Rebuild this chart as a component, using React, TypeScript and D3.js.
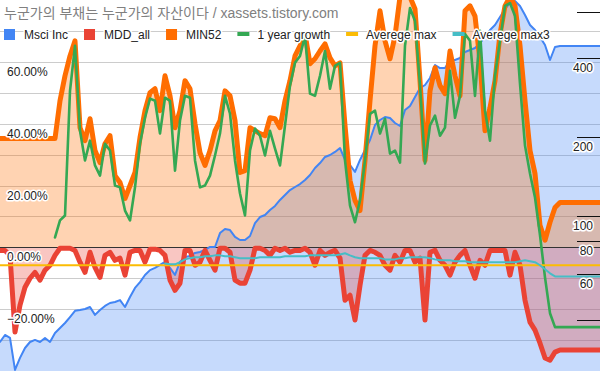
import React, { useEffect, useRef } from "react"
import * as d3 from "d3"

const title = "누군가의 부채는 누군가의 자산이다 / xassets.tistory.com"

// one sample every ~5px of the original plot, oldest first
// Msci Inc price (right, log axis)
const msciInc = [
  33.1, 35.2, 34.3, 25.9, 28.8, 31.4, 33.1, 33.7, 33.1, 34.3,
  33.1, 35.8, 37.4, 39.1, 41.2, 43.5, 43.8, 44.2, 45.0, 42.0,
  43.8, 45.4, 46.6, 47.0, 47.8, 45.0, 49.1, 53.2, 56.0, 59.6,
  62.2, 63.4, 65.1, 66.8, 63.4, 59.6, 66.8, 69.8, 70.4, 72.3,
  72.9, 74.2, 76.2, 76.2, 86.1, 89.2, 88.4, 83.2, 81.0, 81.0,
  83.9, 94.0, 99.1, 100.9, 105.4, 109.2, 115.1, 120.2, 125.6, 129.0,
  132.4, 137.2, 143.3, 152.4, 159.2, 167.9, 170.8, 175.4, 181.6, 163.5,
  156.4, 147.2, 163.5, 178.5, 194.9, 222.3, 232.2, 238.4, 236.3, 226.2,
  220.3, 253.5, 262.6, 284.1, 307.4, 315.7, 335.8, 376.3, 366.4, 366.4,
  393.1, 393.1, 400.1, 421.7, 429.2, 436.8, 456.4, 481.2, 511.5, 534.4,
  573.5, 615.0, 648.2, 659.7, 631.4, 583.5, 534.4, 511.5, 481.2, 448.5,
  393.1, 440.7, 444.6, 444.6, 444.6, 444.6, 444.6, 444.6, 444.6, 444.6, 444.6,
]

// drawdown from all time high, %
const mddAll = [
  -1.0, -1.0, -2.6, -27.4, -18.7, -12.9, -10.0, -8.1, -10.6, -7.4,
  -5.8, -2.6, -0.3, -0.3, -0.3, -1.0, -4.8, -8.1, -1.6, -6.5,
  -9.7, -2.6, -1.6, -4.2, -3.5, -9.0, -1.6, -1.0, -1.0, -4.8,
  -0.6, -0.6, -1.0, -2.6, -10.6, -13.9, -11.6, -1.0, -1.0, -5.8,
  -4.8, -1.0, -4.2, -7.4, -0.3, -0.3, -1.6, -10.6, -11.6, -11.6,
  -7.4, -0.3, -0.3, -1.0, -2.6, -0.3, -1.0, -0.3, -1.6, -1.0,
  -1.0, -0.3, -1.6, -5.8, -1.0, -2.6, -1.6, -1.0, -3.5, -17.1,
  -15.5, -23.5, -12.3, -2.6, -1.0, -1.6, -2.6, -5.8, -7.4, -2.6,
  -4.8, -1.0, -1.0, -4.8, -3.5, -23.5, -1.6, -1.0, -4.2, -5.8,
  -9.0, -4.8, -2.6, -1.0, -5.8, -10.0, -4.2, -5.8, -1.0, -1.0,
  -1.0, -1.0, -9.0, -1.6, -5.8, -17.1, -24.2, -26.8, -31.0, -35.8,
  -36.5, -33.9, -33.2, -33.2, -33.2, -33.2, -33.2, -33.2, -33.2, -33.2, -33.2,
]

// rise above the 52 week low, %
const min52 = [
  35.2, 35.2, 35.2, 35.2, 35.2, 35.2, 35.2, 35.2, 35.2, 35.2,
  35.2, 35.2, 47.4, 55.5, 61.9, 66.8, 38.7, 34.5, 41.6, 31.3,
  27.4, 33.5, 36.1, 23.2, 21.0, 15.8, 20.0, 24.2, 35.5, 44.2,
  50.0, 51.3, 44.2, 55.5, 49.0, 38.7, 44.2, 53.9, 51.3, 40.0,
  30.6, 26.5, 31.3, 37.7, 41.0, 50.6, 49.0, 41.0, 24.2, 24.8,
  38.7, 37.7, 36.8, 36.1, 41.9, 41.6, 38.7, 47.4, 53.9, 61.9,
  65.2, 69.0, 59.4, 61.0, 63.5, 65.8, 61.3, 58.7, 59.7, 39.4,
  21.6, 15.2, 11.9, 28.1, 47.4, 65.2, 76.5, 66.8, 61.0, 68.4,
  81, 81, 81, 77.1, 53.9, 28.1, 50.6, 58.1, 52.3, 49.7,
  63.5, 55.5, 49.0, 76.5, 78.1, 74.8, 60.3, 37.7, 45.2, 53.9,
  69.0, 78.1, 81, 78.1, 65.2, 47.4, 31.3, 23.9, 7.1, 2.3,
  8.1, 12.9, 14.5, 14.5, 14.5, 14.5, 14.5, 14.5, 14.5, 14.5, 14.5,
]

// 1 year growth, %
const yearGrowth = [
  null, null, null, null, null, null, null, null, null, null,
  null, 3.2, 8.7, 10.3, 50.6, 65.2, 37.7, 28.1, 34.5, 26.5,
  23.2, 33.5, 31.3, 20.0, 19.4, 11.9, 8.7, 19.4, 33.5, 41.9,
  48.1, 47.4, 36.8, 48.4, 47.4, 24.8, 41.0, 49.0, 48.4, 28.1,
  19.4, 20.0, 23.2, 29.7, 36.8, 49.0, 43.2, 28.1, 17.4, 10.3,
  31.3, 38.4, 36.1, 29.7, 37.7, 31.9, 26.5, 39.4, 52.3, 59.7,
  61.9, 68.4, 49.7, 49.0, 55.5, 63.5, 51.3, 58.7, 59.7, 28.1,
  13.5, 8.1, 15.2, 28.1, 43.2, 44.2, 36.8, 41.6, 30.3, 31.3,
  27.4, 65.2, 77.4, 73.2, 52.3, 27.1, 39.4, 42.6, 36.1, 38.7,
  57.1, 41.9, 49.0, 69.0, 66.8, 49.0, 70.0, 44.2, 34.5, 55.5,
  66.8, 78.1, 79.0, 74.8, 52.9, 32.9, 23.9, 16.1, 3.9, -9.7,
  -21.3, -25.8, -25.8, -25.8, -25.8, -25.8, -25.8, -25.8, -25.8, -25.8, -25.8,
]

// flat over the whole period
const averegeMax = -5.8

const averegeMax3 = [
  null, null, null, null, null, null, null, null, null, null,
  null, null, null, null, null, null, null, null, null, null,
  null, null, null, null, null, null, null, null, null, null,
  null, null, null, -5.2, -5.5, -5.5, -4.8, -3.9, -3.5, -3.2,
  -3.2, -2.9, -2.9, -2.6, -2.6, -2.9, -2.9, -3.2, -3.5, -3.5,
  -3.5, -3.5, -3.2, -3.2, -3.2, -3.2, -3.2, -2.9, -2.9, -2.9,
  -2.9, -2.9, -2.6, -2.6, -2.6, -2.6, -2.6, -2.6, -2.3, -1.9,
  -2.6, -3.2, -3.5, -3.5, -3.5, -3.5, -3.5, -3.9, -3.9, -3.9,
  -3.5, -3.5, -3.2, -3.2, -3.2, -3.2, -3.5, -3.9, -4.2, -4.2,
  -4.2, -4.5, -4.5, -4.5, -4.8, -4.8, -4.8, -4.8, -4.8, -4.8,
  -4.8, -4.8, -4.8, -4.8, -4.5, -4.2, -4.5, -4.8, -5.8, -7.1,
  -8.4, -9.4, -9.4, -9.4, -9.4, -9.4, -9.4, -9.4, -9.4, -9.4, -9.4,
]

const seriesNames = ["Msci Inc", "MDD_all", "MIN52", "1 year growth", "Averege max", "Averege max3"]
const seriesColors = ["#4285f4", "#ea4335", "#ff6d01", "#34a853", "#fbbc04", "#46bdc6"]

const leftLabels = [60, 40, 20, 0, -20]
const rightTicks = [600, 400, 200, 100, 80, 60, 40]
const rightLabels = [400, 200, 100, 80, 60]

const W = 600
const H = 371
const FONT = "'Liberation Sans', Arial, 'Noto Sans CJK KR', sans-serif"

const App = () => {
  const svgRef = useRef<SVGSVGElement>(null)

  useEffect(() => {
    if (!svgRef.current) return
    const svg = d3.select(svgRef.current)
    svg.selectAll("*").remove()

    const last = msciInc.length - 1
    const x = d3.scaleLinear().domain([0, last]).range([0, W])
    const yL = d3.scaleLinear().domain([-40, 80]).range([H, 0])
    const yR = d3.scaleLog().domain([25.66, 665.6]).range([H, 0])
    const snap = (v: number) => Math.round(v) + 0.5

    svg.append("defs").append("clipPath").attr("id", "plot")
      .append("rect").attr("width", W).attr("height", H)

    const plot = svg.append("g").attr("clip-path", "url(#plot)")

    // gridlines every 10%
    plot.append("g").selectAll("line")
      .data(d3.range(-30, 80, 10).filter(v => v !== 0))
      .enter().append("line")
      .attr("x1", 0).attr("x2", W)
      .attr("y1", d => snap(yL(d))).attr("y2", d => snap(yL(d)))
      .attr("stroke", "#cccccc")

    // areas
    const blueArea = d3.area<number>()
      .x((d, i) => x(i)).y0(H).y1(d => yR(d))
    const zeroArea = d3.area<number>()
      .x((d, i) => x(i)).y0(yL(0)).y1(d => yL(d))

    plot.append("path").attr("d", blueArea(msciInc))
      .attr("fill", seriesColors[0]).attr("fill-opacity", 0.3)
    plot.append("path").attr("d", zeroArea(mddAll))
      .attr("fill", seriesColors[1]).attr("fill-opacity", 0.3)
    plot.append("path").attr("d", zeroArea(min52))
      .attr("fill", seriesColors[2]).attr("fill-opacity", 0.3)

    // 0% baseline
    plot.append("line")
      .attr("x1", 0).attr("x2", W)
      .attr("y1", snap(yL(0))).attr("y2", snap(yL(0)))
      .attr("stroke", "#333333")

    const lineL = d3.line<number | null>()
      .defined(d => d !== null)
      .x((d, i) => x(i)).y(d => yL(d as number))
    const lineR = d3.line<number>()
      .x((d, i) => x(i)).y(d => yR(d))
    const flat = d3.line<number>()
      .x(d => x(d)).y(() => yL(averegeMax))

    const addLine = (d: string | null, color: string, width: number) =>
      plot.append("path").attr("d", d).attr("fill", "none")
        .attr("stroke", color).attr("stroke-width", width)
        .attr("stroke-linejoin", "round").attr("stroke-linecap", "round")

    addLine(lineR(msciInc), seriesColors[0], 2)
    addLine(lineL(mddAll), seriesColors[1], 5)
    addLine(lineL(min52), seriesColors[2], 5)
    addLine(lineL(yearGrowth), seriesColors[3], 2.6)
    addLine(flat([0, last]), seriesColors[4], 2)
    addLine(lineL(averegeMax3), seriesColors[5], 2)

    const halo = (sel: d3.Selection<SVGTextElement, any, any, any>) =>
      sel.attr("font-family", FONT).attr("font-size", 12).attr("fill", "#222222")
        .attr("stroke", "#ffffff").attr("stroke-width", 3)
        .attr("stroke-linejoin", "round").attr("paint-order", "stroke")

    // left axis labels, inside
    svg.append("g").selectAll("text")
      .data(leftLabels).enter().append("text")
      .attr("x", 7).attr("y", d => yL(d) + 14)
      .text(d => d3.format(".2f")(d) + "%")
      .call(halo)

    // right axis ticks and labels, inside
    svg.append("g").selectAll("line")
      .data(rightTicks).enter().append("line")
      .attr("x1", 577).attr("x2", W)
      .attr("y1", d => snap(yR(d))).attr("y2", d => snap(yR(d)))
      .attr("stroke", "#111111")
    svg.append("g").selectAll("text")
      .data(rightLabels).enter().append("text")
      .attr("x", 593).attr("y", d => yR(d) + 14)
      .attr("text-anchor", "end")
      .text(d => String(d))
      .call(halo)

    // title
    svg.append("text")
      .attr("x", 4).attr("y", 18)
      .attr("font-family", FONT).attr("font-size", 14)
      .attr("fill", "#808080")
      .text(title)

    // legend
    const legend = svg.append("g")
    let lx = 4
    seriesNames.forEach((name, i) => {
      if (i < 3) {
        legend.append("rect").attr("x", lx).attr("y", 29)
          .attr("width", 11).attr("height", 11).attr("fill", seriesColors[i])
      } else {
        legend.append("rect").attr("x", lx).attr("y", 32)
          .attr("width", 12).attr("height", 4).attr("fill", seriesColors[i])
      }
      const t = legend.append("text")
        .attr("x", lx + 20).attr("y", 38.5)
        .text(name)
        .call(halo)
      const w = (t.node() as SVGTextElement).getComputedTextLength()
      lx += 20 + w + 16
    })
  }, [])

  return (
    <svg
      ref={svgRef}
      width={W}
      height={H}
      style={{ position: "absolute", left: 0, top: 0, background: "#ffffff" }}
    />
  )
}

export default App
